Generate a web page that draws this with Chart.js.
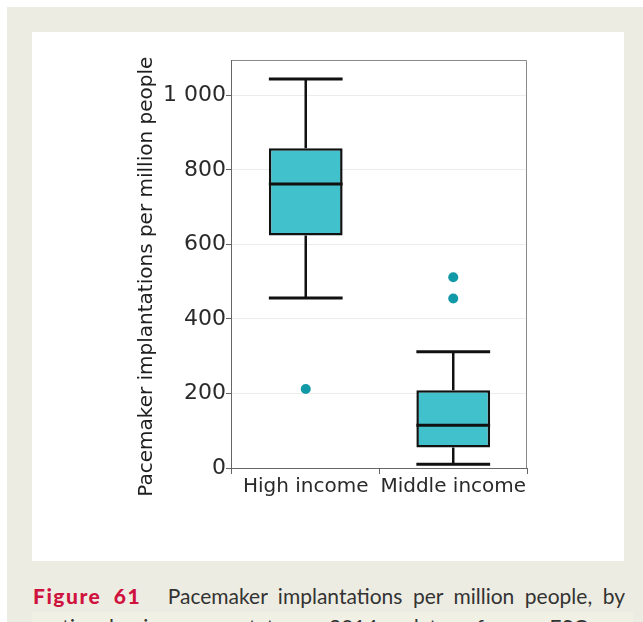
<!DOCTYPE html>
<html>
<head>
<meta charset="utf-8">
<script src="https://cdn.jsdelivr.net/npm/chart.js"></script>
<style>
  html, body { margin: 0; padding: 0; background: #fff; }
  #page { position: relative; width: 643px; height: 622px; overflow: hidden; }
  #beige { position: absolute; left: 7px; top: 7px; width: 636px; height: 615px; background: #edece2; }
  #panel { position: absolute; left: 32px; top: 32px; width: 592px; height: 529px; background: #fff; }
  #wrap { position: absolute; left: 135px; top: 22px; width: 397px; height: 478px; }
  #caption { position: absolute; left: 33px; top: 584px; width: 592px; height: 26px; overflow: hidden; font-family: Lato, "Open Sans", sans-serif;
             font-size: 21px; color: #333; text-align: justify; text-align-last: justify; line-height: 24px; }
  #caption b { display: inline-block; color: #d0123f; font-weight: 900; letter-spacing: 1.5px; word-spacing: 6px; margin-right: 16px; }
  #line2 { position: absolute; left: 32px; top: 612px; width: 593px; height: 20px; background: #f1f0e5;
           font-family: Lato, sans-serif; font-size: 21px; color: #333; padding-left: 8px; word-spacing: 24px; line-height: 30px; }
</style>
</head>
<body>
<div id="page">
  <div id="beige"></div>
  <div id="panel"></div>
  <div id="wrap"><canvas id="chart"></canvas></div>
  <div id="caption"><b>Figure 61</b> Pacemaker implantations per million people, by</div>
  <div id="line2">national income status, 2014 data from ESC member countries</div>
</div>
<script>
// data
const categories = ['High income', 'Middle income'];
const whiskerMin = [456, 10];
const q1 = [624, 55];
const median = [762, 115];
const q3 = [858, 209];
const whiskerMax = [1044, 312];
const outlierCategory = ['High income', 'Middle income', 'Middle income'];
const outlierValue = [212, 512, 455];
const yTicks = [0, 200, 400, 600, 800, 1000];

const boxPlotPlugin = {
  id: 'boxParts',
  afterDatasetsDraw(chart) {
    const ctx = chart.ctx;
    const y = chart.scales.y;
    const meta = chart.getDatasetMeta(0);
    ctx.save();
    ctx.strokeStyle = '#111';
    meta.data.forEach((bar, i) => {
      const cx = bar.x;
      const half = bar.width / 2;
      ctx.lineWidth = 2.5;
      ctx.beginPath();
      ctx.moveTo(cx, y.getPixelForValue(whiskerMax[i]));
      ctx.lineTo(cx, y.getPixelForValue(q3[i]));
      ctx.moveTo(cx, y.getPixelForValue(q1[i]));
      ctx.lineTo(cx, y.getPixelForValue(whiskerMin[i]));
      ctx.stroke();
      ctx.lineWidth = 3;
      [whiskerMax[i], whiskerMin[i], median[i]].forEach(v => {
        const py = y.getPixelForValue(v);
        ctx.beginPath();
        ctx.moveTo(cx - half, py);
        ctx.lineTo(cx + half, py);
        ctx.stroke();
      });
    });
    ctx.restore();
  },
  beforeDatasetsDraw(chart) {
    const a = chart.chartArea;
    const ctx = chart.ctx;
    ctx.save();
    ctx.strokeStyle = '#8a8a8a';
    ctx.lineWidth = 1;
    ctx.beginPath();
    ctx.moveTo(a.left, a.top + 0.5);
    ctx.lineTo(a.right - 0.5, a.top + 0.5);
    ctx.lineTo(a.right - 0.5, a.bottom);
    ctx.stroke();
    ctx.restore();
  }
};

new Chart(document.getElementById('chart').getContext('2d'), {
  type: 'bar',
  data: {
    labels: categories,
    datasets: [{
      data: categories.map((c, i) => [q1[i], q3[i]]),
      backgroundColor: '#41c1cc',
      borderColor: '#111',
      borderWidth: 2.5,
      borderSkipped: false,
      barPercentage: 0.5,
      categoryPercentage: 1
    }, {
      type: 'line',
      showLine: false,
      data: outlierValue.map((v, i) => ({ x: outlierCategory[i], y: v })),
      pointRadius: 5,
      pointBackgroundColor: '#1299a7',
      pointBorderWidth: 0
    }]
  },
  plugins: [boxPlotPlugin],
  options: {
    responsive: true,
    maintainAspectRatio: false,
    animation: false,
    layout: { padding: { top: 38, right: 4, bottom: 0, left: 0 } },
    plugins: { legend: { display: false }, tooltip: { enabled: false } },
    scales: {
      x: {
        grid: { drawOnChartArea: false, drawTicks: true, tickLength: 6, tickColor: '#666', offset: true },
        border: { color: '#666' },
        ticks: { color: '#2a2a2a', font: { family: 'DejaVu Sans', size: 20 }, padding: 1,
                 maxRotation: 0, minRotation: 0, autoSkip: false },
      },
      y: {
        min: 0,
        max: 1095,
        afterBuildTicks: axis => { axis.ticks = yTicks.map(v => ({ value: v })); },
        grid: { color: '#ececec', tickLength: 6, tickColor: '#666' },
        border: { color: '#666' },
        ticks: {
          color: '#2a2a2a',
          font: { family: 'DejaVu Sans', size: 22 },
          padding: 0,
          callback: v => v === 1000 ? '1 000' : v
        },
        title: {
          display: true,
          // trailing spaces nudge the centred title down a little, as in the original
          text: 'Pacemaker implantations per million people    ',
          color: '#1e1e1e',
          font: { family: 'DejaVu Sans', size: 20 },
          padding: { top: 0, bottom: 4 }
        }
      }
    }
  }
});
</script>
</body>
</html>
